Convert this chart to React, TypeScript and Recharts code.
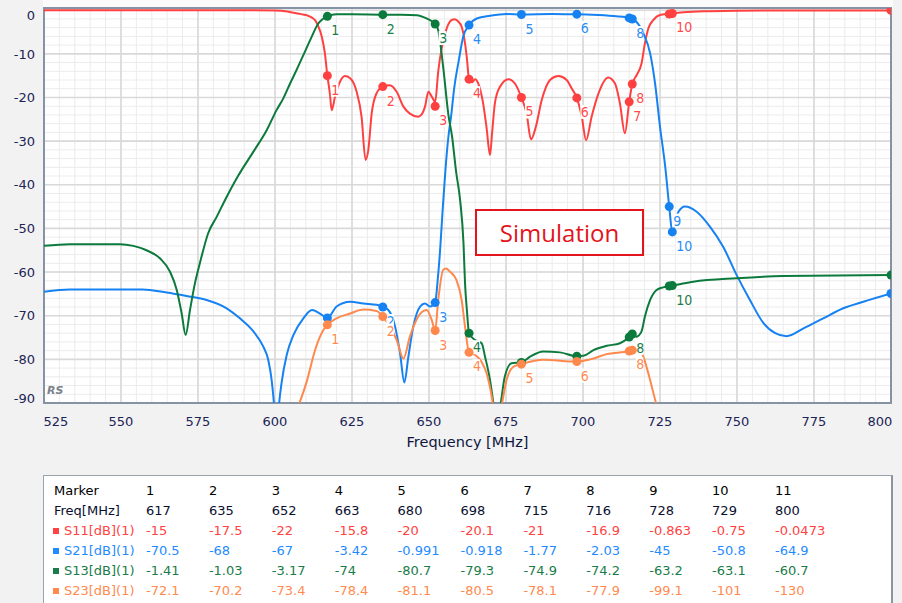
import React from 'react';
import { ComposedChart, Line, Scatter, XAxis, YAxis, CartesianGrid, ReferenceArea } from 'recharts';

const FONT = '"DejaVu Sans", Verdana, sans-serif';
const LABEL_FONT = '"Liberation Sans Narrow", "DejaVu Sans Condensed", "Liberation Sans", sans-serif';

// ---- marker table data ----
const markerIds = [1, 2, 3, 4, 5, 6, 7, 8, 9, 10, 11];
const markerFreqs = [617, 635, 652, 663, 680, 698, 715, 716, 728, 729, 800];
const s11Markers = [-15, -17.5, -22, -15.8, -20, -20.1, -21, -16.9, -0.863, -0.75, -0.0473];
const s21Markers = [-70.5, -68, -67, -3.42, -0.991, -0.918, -1.77, -2.03, -45, -50.8, -64.9];
const s13Markers = [-1.41, -1.03, -3.17, -74, -80.7, -79.3, -74.9, -74.2, -63.2, -63.1, -60.7];
const s23Markers = [-72.1, -70.2, -73.4, -78.4, -81.1, -80.5, -78.1, -77.9, -99.1, -101, -130];
const seriesNames = ['S11[dB](1)', 'S21[dB](1)', 'S13[dB](1)', 'S23[dB](1)'];
// marker labels that are covered by neighbouring labels in the plot
const s11HiddenLabels = [9];
const s21HiddenLabels = [1, 7];
const s13HiddenLabels = [5, 6, 7, 9];
const s23HiddenLabels = [7];

// ---- traces [freq MHz, dB] ----
const s11Trace: [number, number][] = [
  [525, 0], [560, 0], [590, 0], [600, -0.05], [604, -0.3], [606, -0.6], [608.5, -0.9], [610.5, -1.2],
  [612, -1.7], [613, -2.3], [614, -3.6], [615.2, -6.1], [616.2, -9.9], [617, -15], [617.8, -19],
  [618.4, -22.9], [619.5, -19.8], [621.1, -16.4], [622.7, -15.1], [624.4, -15.6], [626.5, -18.7],
  [628.1, -24.4], [629.4, -34.3], [630.3, -32], [631.4, -23.6], [633, -19], [635, -17.5], [637.3, -17.2],
  [639.5, -18.7], [641.7, -22.1], [643.8, -23.7], [646.5, -24.4], [647.5, -24], [648.7, -22.1],
  [649.8, -18.7], [650.9, -19.8], [652, -21], [653, -14], [654.1, -8.8], [655, -6], [656.3, -3.2],
  [657.5, -2.2], [658.4, -2.1], [659.5, -2.6], [660.6, -3.8], [661.7, -7.6], [662.3, -11], [663, -15.8],
  [664, -16.5], [665, -15.8], [666, -16.8], [667.5, -21], [668.7, -27], [669.8, -33.2], [670.5, -28],
  [671.4, -21.3], [673, -17.6], [675.8, -15.8], [677.9, -16.8], [680, -20], [681.7, -23.7], [683.1, -29.6],
  [684.7, -26.7], [686.6, -20.6], [689.3, -16], [692, -15.1], [694.7, -16], [696.3, -17.9], [698, -20.1],
  [699.6, -24.4], [701, -29.8], [702.8, -24.4], [705, -19.1], [708.2, -15.4], [710.4, -16.8], [712, -21.4],
  [713.6, -28.2], [715, -21], [716, -16.9], [717.4, -14.9], [719, -12.2], [720.1, -7.6], [721.2, -4.2],
  [722.8, -2.3], [725, -1.1], [728, -0.863], [729, -0.75], [732.6, -0.46], [741, -0.23], [750, -0.12],
  [775, -0.06], [799, -0.05], [800, -0.0473],
];

const s21Trace: [number, number][] = [
  [525, -64.5], [533.4, -64], [557, -64], [564.8, -64.7], [571.3, -65.5], [577.8, -66.4], [584.3, -68.3],
  [588.6, -70.6], [593, -73.6], [596.2, -77.1], [597.8, -80.1], [598.9, -84.7], [599.7, -90.5], [600.5, -100],
  [601.3, -90.5], [602.2, -85.1], [603.8, -79], [606, -74.4], [609.2, -70.6], [612, -68.7], [614.6, -69.5],
  [617, -70.5], [620, -67.9], [624.4, -66.8], [628.7, -67.2], [633, -67.5], [635, -68], [636.8, -68.7],
  [639, -72.5], [640.6, -78.6], [642, -85.3], [643.3, -79.4], [644.9, -72.5], [647.1, -67.9], [648.7, -67.2],
  [650.3, -67.9], [652, -67], [652.8, -62], [653.6, -55], [654.5, -45], [655.4, -36], [656.3, -29],
  [657.3, -23.6], [658.1, -18.3], [659.7, -11.4], [661.1, -6.1], [663, -3.42], [665.5, -1.9], [669.8, -1.3],
  [675.2, -0.9], [680, -0.991], [690, -0.9], [698, -0.918], [705, -1.1], [710.9, -1.4], [715, -1.77],
  [716, -2.03], [717.4, -2.7], [719.6, -5.3], [721.8, -9.9], [723.4, -16.8], [725, -26.7], [726.7, -35.9],
  [728, -45], [729, -50.8], [730, -48.5], [731, -46.2], [733.1, -45], [736.9, -46.2], [741.2, -49.6],
  [745.5, -54.2], [749.9, -60.7], [754.2, -66.4], [758.6, -71.7], [762.4, -74], [766.1, -74.7], [771.6, -72.9],
  [778, -70.6], [784.5, -68.3], [791, -66.8], [800, -64.9],
];

const s13Trace: [number, number][] = [
  [525, -54], [533.4, -53.6], [549.7, -53.6], [554, -54], [558.3, -55], [562.7, -56.9], [565.9, -59.9],
  [568.1, -64.1], [569.7, -69.5], [571, -74.4], [572.4, -68.7], [574, -62.6], [575.6, -58], [578.3, -51.1],
  [581.1, -47.3], [584, -43.2], [588, -38], [593, -32.4], [597.3, -27.5], [600.5, -22.9], [602.7, -20.2],
  [604.9, -16.8], [607, -13.7], [609.2, -10.3], [611.9, -6.1], [614, -3.1], [615.5, -2], [617, -1.41],
  [620, -0.95], [625, -0.95], [635, -1.03], [641, -1.05], [646, -1.15], [649.2, -1.9], [652, -3.17],
  [653, -4.6], [654.6, -13], [656.3, -24], [657.5, -29], [658.8, -37], [660.1, -43.5], [661.2, -53.4],
  [661.7, -62.6], [662.3, -68.7], [663, -74], [665, -75.6], [667.1, -76.3], [668.2, -79.4], [669.8, -84.7],
  [671, -90.5], [672, -95], [673.2, -90.5], [674.6, -84], [676.8, -80.9], [680, -80.7], [682.8, -79.4],
  [687.1, -78.2], [692.5, -78.4], [698, -79.3], [700.1, -79.2], [703.4, -77.9], [707.7, -76.9], [712, -76.3],
  [715, -74.9], [716, -74.2], [717.4, -74.8], [719, -73.6], [720.1, -70.2], [721.8, -66.4], [723.9, -64.1],
  [726, -63.5], [728, -63.2], [729, -63.1], [735.8, -62.2], [749.9, -61.4], [765, -60.9], [800, -60.7],
];

const s23Trace: [number, number][] = [
  [525, -120], [590, -110], [605, -95], [608.1, -89.7], [610.3, -85.1], [613, -77.9], [615.7, -73.3],
  [617, -72.1], [620, -70.6], [624.4, -69.5], [628.7, -68.6], [633, -68.9], [635, -70.2], [637.3, -72.5],
  [639.5, -75.6], [641.7, -79.8], [643.8, -74.8], [646.5, -70.2], [649.2, -68.7], [650.9, -71], [652, -73.4],
  [653, -66.4], [654.6, -59.5], [655.5, -59.2], [656.8, -59.9], [658.9, -61.8], [660.6, -66.4], [661.7, -72.5],
  [663, -78.4], [665, -79], [667, -80.5], [668.7, -83.2], [670.5, -89], [672, -96], [673.6, -90.5],
  [675.2, -84.7], [677.4, -81.7], [680, -81.1], [687.1, -80.1], [698, -80.5], [702.3, -80], [707.7, -78.8],
  [715, -78.1], [716, -77.9], [718.5, -77.9], [719.6, -79.4], [721.2, -83.2], [723.9, -90.5], [728, -99.1],
  [729, -101], [750, -115], [800, -130],
];

const X_MIN = 525;
const X_MAX = 800;
const Y_MIN = -90;
const Y_MAX = 0.5;
const xTicks = [525, 550, 575, 600, 625, 650, 675, 700, 725, 750, 775, 800];
const yTicks = [0, -10, -20, -30, -40, -50, -60, -70, -80, -90];
const xMinor: number[] = [];
for (let f = X_MIN; f <= X_MAX; f += 5) xMinor.push(f);
const yMinor: number[] = [];
for (let d = 0; d >= Y_MIN; d -= 2) yMinor.push(d);

const COL: Record<string, string> = {
  s11: '#ff4040',
  s21: '#1682f2',
  s13: '#0c7a3c',
  s23: '#ff884c',
};
const LBL: Record<string, string> = {
  s11: '#ff4a4a',
  s21: '#2a8cf5',
  s13: '#1b7d4a',
  s23: '#ff8a50',
};
const TBL = ['#ff4242', '#1f8bff', '#1a7c48', '#ff8a50'];

const toPts = (arr: [number, number][]) => arr.map(([f, v]) => ({ f, v }));
const toMarkers = (vals: number[], hidden: number[]) =>
  vals.map((v, i) => ({
    f: markerFreqs[i],
    v,
    m: markerIds[i],
    showLabel: !hidden.includes(markerIds[i]) && markerFreqs[i] < X_MAX && v > Y_MIN,
  }));

const XTick = (props: any) => {
  const { x, y, payload } = props;
  const v = payload.value;
  const shift = v === X_MIN ? 12 : v === X_MAX ? -11 : 0;
  return (
    <text x={x + shift} y={y} dy={23} textAnchor="middle" fontSize={13} fill="#1c2456" fontFamily={FONT}>
      {v}
    </text>
  );
};

const YTick = (props: any) => {
  const { x, y, payload } = props;
  const v = payload.value;
  const shift = v === 0 ? 5 : v === -90 ? -5 : 0;
  return (
    <text x={x - 9} y={y + shift} dy={4.7} textAnchor="end" fontSize={13} fill="#1c2456" fontFamily={FONT}>
      {v}
    </text>
  );
};

const makeShape = (color: string, labelColor: string) => (props: any) => {
  const { cx, cy, payload } = props;
  if (cx == null || cy == null || isNaN(cx) || isNaN(cy)) return <g />;
  const txt = String(payload.m);
  const w = txt.length * 6.6 + 1;
  const lx = cx + 4;
  const ly = cy + 14;
  return (
    <g>
      <circle cx={cx} cy={cy} r={4.5} fill={color} />
      {payload.showLabel ? (
        <g>
          <rect x={lx - 0.5} y={ly - 7} width={w} height={14} fill="#ffffff" />
          <text x={lx} y={ly} dy={5} textAnchor="start" fontSize={14} fill={labelColor} fontFamily={LABEL_FONT}>
            {txt}
          </text>
        </g>
      ) : null}
    </g>
  );
};

const series = [
  { key: 's11', trace: s11Trace, markers: s11Markers, hidden: s11HiddenLabels },
  { key: 's21', trace: s21Trace, markers: s21Markers, hidden: s21HiddenLabels },
  { key: 's13', trace: s13Trace, markers: s13Markers, hidden: s13HiddenLabels },
  { key: 's23', trace: s23Trace, markers: s23Markers, hidden: s23HiddenLabels },
];

function MarkerTable() {
  const colX = (i: number) => 146 + 62.9 * i;
  const rowY = (r: number) => 491 + 20 * r;
  const cell = (key: string, x: number, r: number, text: string, color: string) => (
    <div
      key={key}
      style={{
        position: 'absolute',
        left: x,
        top: rowY(r) - 8,
        height: 16,
        lineHeight: '16px',
        fontFamily: FONT,
        fontSize: 13,
        color,
        whiteSpace: 'nowrap',
      }}
    >
      {text}
    </div>
  );
  const rows: React.ReactNode[] = [];
  rows.push(cell('mh', 54, 0, 'Marker', '#000000'));
  markerIds.forEach((m, i) => rows.push(cell('m' + i, colX(i), 0, String(m), '#000000')));
  rows.push(cell('fh', 54, 1, 'Freq[MHz]', '#0a0f30'));
  markerFreqs.forEach((f, i) => rows.push(cell('f' + i, colX(i), 1, String(f), '#0a0f30')));
  series.forEach((s, si) => {
    const r = si + 2;
    rows.push(
      <div
        key={'sq' + si}
        style={{ position: 'absolute', left: 53, top: rowY(r) - 3, width: 6, height: 6, background: TBL[si] }}
      />
    );
    rows.push(cell('n' + si, 64, r, seriesNames[si], TBL[si]));
    s.markers.forEach((v, i) => rows.push(cell('v' + si + '_' + i, colX(i), r, String(v), TBL[si])));
  });
  return (
    <>
      <div
        style={{
          position: 'absolute',
          left: 43,
          top: 475,
          width: 847,
          height: 140,
          background: '#ffffff',
          border: '1px solid #9aa4b0',
          borderRight: '2px solid #8a95a3',
        }}
      />
      {rows}
    </>
  );
}

export default function App() {
  return (
    <div
      style={{
        position: 'absolute',
        left: 0,
        top: 0,
        width: 902,
        height: 603,
        background: '#f2f2f2',
        overflow: 'hidden',
      }}
    >
      <div style={{ position: 'absolute', left: 43, top: 0, width: 850, height: 8, background: '#fbfbfb' }} />
      <div style={{ position: 'absolute', left: 0, top: 0 }}>
        <ComposedChart width={902} height={460} margin={{ top: 8, right: 11, bottom: 0, left: 0 }}>
          <CartesianGrid
            fill="#ffffff"
            stroke="#ececec"
            strokeWidth={1}
            horizontalValues={yMinor}
            verticalValues={xMinor}
          />
          <CartesianGrid
            stroke="#d9d9d9"
            strokeWidth={1.6}
            horizontalValues={yTicks}
            verticalValues={xTicks}
          />
          <XAxis
            dataKey="f"
            type="number"
            domain={[X_MIN, X_MAX]}
            allowDataOverflow
            ticks={xTicks}
            interval={0}
            tickSize={0}
            tickMargin={0}
            axisLine={false}
            tickLine={false}
            tick={<XTick />}
            height={57}
            label={{
              value: 'Frequency [MHz]',
              position: 'insideBottom',
              offset: 13,
              fill: '#0d1640',
              fontSize: 14.5,
              fontFamily: FONT,
            }}
          />
          <YAxis
            type="number"
            domain={[Y_MIN, Y_MAX]}
            allowDataOverflow
            ticks={yTicks}
            interval={0}
            tickSize={0}
            tickMargin={0}
            axisLine={false}
            tickLine={false}
            tick={<YTick />}
            width={44}
          />
          {series.map((s) => (
            <Line
              key={'l' + s.key}
              data={toPts(s.trace)}
              dataKey="v"
              type="monotone"
              stroke={COL[s.key]}
              strokeWidth={2}
              dot={false}
              activeDot={false}
              isAnimationActive={false}
            />
          ))}
          {series.map((s) => (
            <Scatter
              key={'m' + s.key}
              data={toMarkers(s.markers, s.hidden)}
              dataKey="v"
              shape={makeShape(COL[s.key], LBL[s.key])}
              isAnimationActive={false}
            />
          ))}
          <ReferenceArea
            x1={X_MIN}
            x2={X_MAX}
            y1={Y_MIN}
            y2={Y_MAX}
            fill="none"
            fillOpacity={0}
            stroke="#8593a4"
            strokeWidth={2}
            ifOverflow="visible"
          />
        </ComposedChart>
      </div>
      <div
        style={{
          position: 'absolute',
          left: 47,
          top: 384,
          fontFamily: FONT,
          fontStyle: 'italic',
          fontWeight: 'bold',
          fontSize: 11,
          color: '#7b818a',
        }}
      >
        RS
      </div>
      <div
        style={{
          position: 'absolute',
          left: 475,
          top: 209,
          width: 165,
          height: 43,
          border: '2px solid #e3141b',
          background: '#ffffff',
          display: 'flex',
          alignItems: 'center',
          justifyContent: 'center',
          fontFamily: '"Open Sans", "Noto Sans", sans-serif',
          fontSize: 24,
          color: '#e3141b',
        }}
      >
        Simulation
      </div>
      <MarkerTable />
    </div>
  );
}
